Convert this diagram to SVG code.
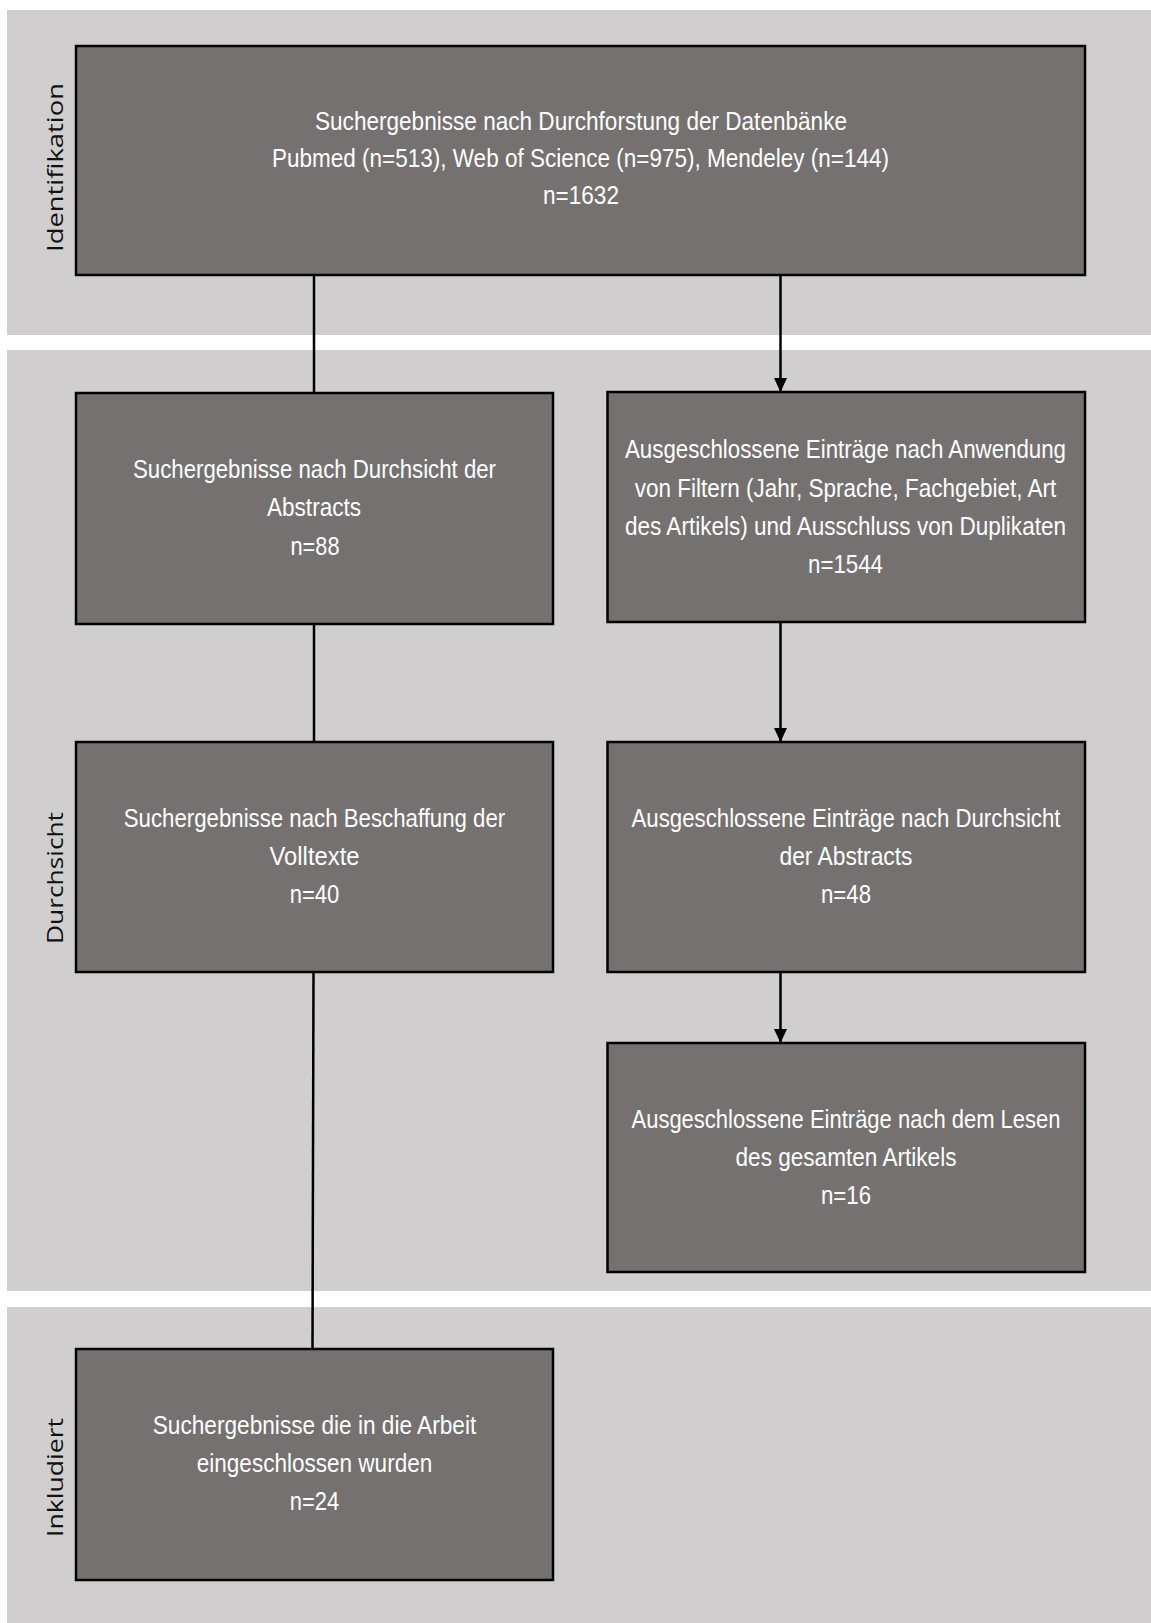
<svg xmlns="http://www.w3.org/2000/svg" width="1151" height="1623" viewBox="0 0 1151 1623">
  <style>
    .band { fill: #d0cecf; }
    .box { fill: #757170; stroke: #000; stroke-width: 2.5; }
    .t { fill: #ffffff; font-family: "Liberation Sans Narrow", "Liberation Sans", Arial, sans-serif; font-size: 25px; text-anchor: middle; }
    .side { fill: #111; font-family: "Open Sans", "DejaVu Sans", sans-serif; font-size: 22px; text-anchor: middle; }
    .conn { stroke: #000; stroke-width: 2.5; fill: none; }
  </style>
  <defs>
    <marker id="arr" markerUnits="userSpaceOnUse" markerWidth="14" markerHeight="13" refX="14" refY="6.5" orient="auto">
      <path d="M0,0 L14,6.5 L0,13 z" fill="#000"/>
    </marker>
  </defs>
  <rect width="1151" height="1623" fill="#ffffff"/>
  <g id="bands">
    <rect class="band" x="7" y="10" width="1144" height="325"/>
    <rect class="band" x="7" y="350" width="1144" height="941"/>
    <rect class="band" x="7" y="1307" width="1144" height="316"/>
    <text class="side" transform="translate(62.7,167.5) rotate(-90)" textLength="169" lengthAdjust="spacingAndGlyphs">Identifikation</text>
    <text class="side" transform="translate(62.7,878) rotate(-90)" textLength="132" lengthAdjust="spacingAndGlyphs">Durchsicht</text>
    <text class="side" transform="translate(62.7,1477.5) rotate(-90)" textLength="119" lengthAdjust="spacingAndGlyphs">Inkludiert</text>
  </g>
  <g id="connectors">
    <line class="conn" x1="314" y1="275" x2="314" y2="393"/>
    <line class="conn" x1="314" y1="624" x2="314" y2="742"/>
    <line class="conn" x1="313.5" y1="972" x2="312.5" y2="1349"/>
    <line class="conn" x1="780.5" y1="275" x2="780.5" y2="392" marker-end="url(#arr)"/>
    <line class="conn" x1="780.5" y1="622" x2="780.5" y2="742" marker-end="url(#arr)"/>
    <line class="conn" x1="780.5" y1="972" x2="780.5" y2="1043" marker-end="url(#arr)"/>
  </g>
  <g id="n1">
    <rect class="box" x="76" y="46" width="1009" height="229"/>
    <text class="t" x="581" y="130" textLength="532" lengthAdjust="spacingAndGlyphs">Suchergebnisse nach Durchforstung der Datenbänke</text>
    <text class="t" x="580.5" y="167" textLength="617" lengthAdjust="spacingAndGlyphs">Pubmed (n=513), Web of Science (n=975), Mendeley (n=144)</text>
    <text class="t" x="581" y="204" textLength="76" lengthAdjust="spacingAndGlyphs">n=1632</text>
  </g>
  <g id="n2">
    <rect class="box" x="76" y="393" width="477" height="231"/>
    <text class="t" x="314.5" y="477.5" textLength="363" lengthAdjust="spacingAndGlyphs">Suchergebnisse nach Durchsicht der</text>
    <text class="t" x="314" y="516" textLength="94" lengthAdjust="spacingAndGlyphs">Abstracts</text>
    <text class="t" x="315" y="554.5" textLength="49" lengthAdjust="spacingAndGlyphs">n=88</text>
  </g>
  <g id="n3">
    <rect class="box" x="607.5" y="392" width="477.5" height="230"/>
    <text class="t" x="845.5" y="458" textLength="441" lengthAdjust="spacingAndGlyphs">Ausgeschlossene Einträge nach Anwendung</text>
    <text class="t" x="845.5" y="496.5" textLength="421.5" lengthAdjust="spacingAndGlyphs">von Filtern (Jahr, Sprache, Fachgebiet, Art</text>
    <text class="t" x="845.5" y="535" textLength="441" lengthAdjust="spacingAndGlyphs">des Artikels) und Ausschluss von Duplikaten</text>
    <text class="t" x="845.5" y="573" textLength="75" lengthAdjust="spacingAndGlyphs">n=1544</text>
  </g>
  <g id="n4">
    <rect class="box" x="76" y="742" width="477" height="230"/>
    <text class="t" x="314.5" y="827" textLength="381.5" lengthAdjust="spacingAndGlyphs">Suchergebnisse nach Beschaffung der</text>
    <text class="t" x="314.5" y="865" textLength="90" lengthAdjust="spacingAndGlyphs">Volltexte</text>
    <text class="t" x="314.5" y="903" textLength="49.5" lengthAdjust="spacingAndGlyphs">n=40</text>
  </g>
  <g id="n5">
    <rect class="box" x="607.5" y="742" width="477.5" height="230"/>
    <text class="t" x="846" y="827" textLength="429" lengthAdjust="spacingAndGlyphs">Ausgeschlossene Einträge nach Durchsicht</text>
    <text class="t" x="846" y="865" textLength="133" lengthAdjust="spacingAndGlyphs">der Abstracts</text>
    <text class="t" x="846" y="903" textLength="50" lengthAdjust="spacingAndGlyphs">n=48</text>
  </g>
  <g id="n6">
    <rect class="box" x="607.5" y="1043" width="477.5" height="229"/>
    <text class="t" x="846" y="1128" textLength="429" lengthAdjust="spacingAndGlyphs">Ausgeschlossene Einträge nach dem Lesen</text>
    <text class="t" x="846" y="1166" textLength="221" lengthAdjust="spacingAndGlyphs">des gesamten Artikels</text>
    <text class="t" x="846" y="1204" textLength="50" lengthAdjust="spacingAndGlyphs">n=16</text>
  </g>
  <g id="n7">
    <rect class="box" x="76" y="1349" width="477" height="231"/>
    <text class="t" x="314.5" y="1434" textLength="323.5" lengthAdjust="spacingAndGlyphs">Suchergebnisse die in die Arbeit</text>
    <text class="t" x="314.5" y="1472" textLength="235.5" lengthAdjust="spacingAndGlyphs">eingeschlossen wurden</text>
    <text class="t" x="314.5" y="1510" textLength="49.5" lengthAdjust="spacingAndGlyphs">n=24</text>
  </g>
</svg>
